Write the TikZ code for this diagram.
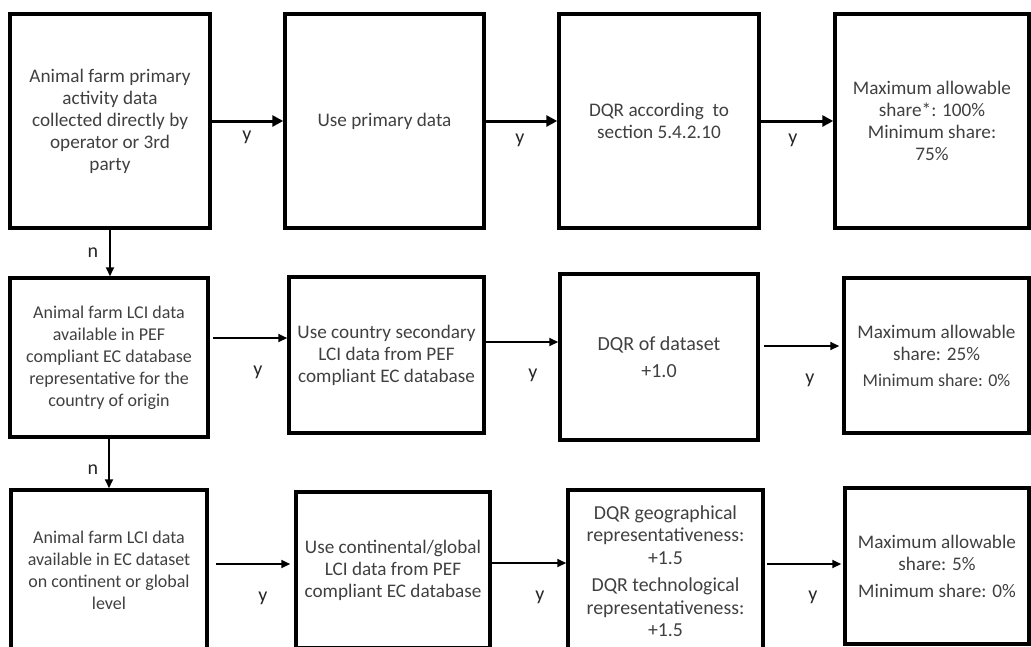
\documentclass[tikz,border=0pt]{standalone}
\usepackage{fontspec}
\setmainfont{Carlito}
\usetikzlibrary{arrows.meta}
\definecolor{txt}{HTML}{404040}
\begin{document}
\begin{tikzpicture}[x=1pt,y=-1pt,
  box/.style={draw=black, line width=3.5pt, rectangle, align=center, text=txt,
    font=\fontsize{19.2}{22}\selectfont, inner sep=0pt},
  narrow/.style={font=\fontsize{18}{22}\selectfont},
  wide/.style={font=\fontsize{19.8}{22.5}\selectfont},
  arrA/.style={line width=3pt, -{Triangle[length=11pt,width=11pt]}},
  arrB/.style={line width=2pt, -{Triangle[length=9pt,width=8pt]}},
  lbl/.style={font=\fontsize{20}{24}\selectfont, text=black!85, inner sep=0pt}]
\useasboundingbox (0,0) rectangle (1031,646);
\clip (0,0) rectangle (1031,646);

% first row: primary data
\node[box, minimum width=200, minimum height=214] (A1) at (110,121)
  {Animal farm primary\\activity data\\collected directly by\\operator or 3rd\\party};
\node[box, minimum width=199, minimum height=214] (B1) at (384.5,121)
  {Use primary data};
\node[box, minimum width=200, minimum height=214] (C1) at (659,121)
  {DQR according~ to\\section 5.4.2.10};
\node[box, minimum width=194, minimum height=214] (D1) at (932,121)
  {Maximum allowable\\share*: 100\%\\Minimum share:\\75\%};

% second row: country secondary data
\node[box, narrow, minimum width=198, minimum height=159] (A2) at (109,357.5)
  {Animal farm LCI data\\available in PEF\\compliant EC database\\representative for the\\country of origin};
\node[box, minimum width=195, minimum height=156] (B2) at (386.5,355)
  {Use country secondary\\LCI data from PEF\\compliant EC database};
\node[box, font=\fontsize{20}{24}\selectfont, minimum width=198, minimum height=166] (C2) at (659,357)
  {DQR of dataset\\[3pt]+1.0};
\node[box, minimum width=185, minimum height=155] (D2) at (936.5,355.5)
  {Maximum allowable\\share: 25\%\\[4pt]{\fontsize{18}{20}\selectfont Minimum share: 0\%}};

% third row: continental / global data
\node[box, narrow, minimum width=196, minimum height=160] (A3) at (109,570)
  {Animal farm LCI data\\available in EC dataset\\on continent or global\\level};
\node[box, minimum width=194, minimum height=156] (B3) at (393,570)
  {Use continental/global\\LCI data from PEF\\compliant EC database};
\node[box, wide, minimum width=195, minimum height=162] (C3) at (665.5,571)
  {DQR geographical\\representativeness:\\+1.5\\[5pt]DQR technological\\representativeness:\\+1.5};
\node[box, minimum width=184, minimum height=156] (D3) at (937,566)
  {Maximum allowable\\share: 5\%\\[5pt]Minimum share: 0\%};

% arrow heights
\coordinate (ya) at (0,338);
\coordinate (yb) at (0,342);
\coordinate (yc) at (0,346);
\coordinate (yd) at (0,564);
\coordinate (ye) at (0,563);

% connectors
\draw[arrA] (A1.east) -- (B1.west);
\draw[arrA] (B1.east) -- (C1.west);
\draw[arrA] (C1.east) -- (D1.west);
\draw[arrB] (A1.south) -- (A1.south |- A2.north);
\draw[arrB] (A2.south) -- (A2.south |- A3.north);

\draw[arrB, shorten <=3pt] (A2.east |- ya) -- (B2.west |- ya);
\draw[arrB] (B2.east |- yb) -- (C2.west |- yb);
\draw[arrB, shorten <=4pt, shorten >=3pt] (C2.east |- yc) -- (D2.west |- yc);

\draw[arrB, shorten <=7pt, shorten >=4pt] (A3.east |- yd) -- (B3.west |- yd);
\draw[arrB] (B3.east |- ye) -- (C3.west |- ye);
\draw[arrB, shorten <=2pt, shorten >=2pt] (C3.east |- yd) -- (D3.west |- yd);

% branch labels
\node[lbl] (n1) at (93,253) {n};
\node[lbl] (n2) at (93,470) {n};
\node[lbl] (y1) at (247,137) {y};
\node[lbl] (y2) at (520,140) {y};
\node[lbl] (y3) at (793,140) {y};
\node[lbl] (y4) at (258,372) {y};
\node[lbl] (y5) at (533,375) {y};
\node[lbl] (y6) at (810,380) {y};
\node[lbl] (y7) at (263,598) {y};
\node[lbl] (y8) at (540,597) {y};
\node[lbl] (y9) at (813,597) {y};
\end{tikzpicture}
\end{document}
